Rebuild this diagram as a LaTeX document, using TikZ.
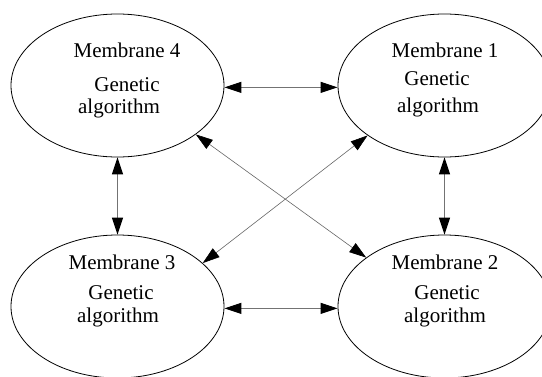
\documentclass[tikz,border=0pt]{standalone}
\usepackage{fontspec}
\setmainfont{Liberation Serif}
\usetikzlibrary{shapes.geometric,arrows.meta}
\begin{document}
\begin{tikzpicture}[x=1pt,y=-1pt,
  memb/.style={draw=black,line width=0.8pt,ellipse,minimum width=213pt,minimum height=143pt,inner sep=0pt},
  lbl/.style={font=\fontsize{21}{24}\selectfont,inner sep=0pt,text=black},
  link/.style={draw=black!55,line width=1pt,{Triangle[length=17pt,width=11pt,black]}-{Triangle[length=17pt,width=11pt,black]}},
  diag/.style={draw=black!60,line width=0.6pt,{Triangle[length=17pt,width=11pt,black]}-{Triangle[length=17pt,width=11pt,black]}}]
\useasboundingbox (0,0) rectangle (542,376);
\node[memb] (m4) at (117.5,85.5) {};
\node[memb] (m1) at (444.5,85.5) {};
\node[memb] (m3) at (117.5,306.5) {};
\node[memb] (m2) at (444.5,306.5) {};
% texts
\node[lbl] (t4a) at (127,50) {Membrane 4};
\node[lbl] (t4b) at (127,85) {Genetic};
\node[lbl] (t4c) at (119,108) {algorithm};
\node[lbl] (t1a) at (445,50) {Membrane 1};
\node[lbl] (t1b) at (437,79) {Genetic};
\node[lbl] (t1c) at (438,107) {algorithm};
\node[lbl] (t3a) at (122,262) {Membrane 3};
\node[lbl] (t3b) at (121,293) {Genetic};
\node[lbl] (t3c) at (118,317) {algorithm};
\node[lbl] (t2a) at (445,262) {Membrane 2};
\node[lbl] (t2b) at (447,293) {Genetic};
\node[lbl] (t2c) at (445,317) {algorithm};
% connectors
\draw[link] (m4.-1.5) -- (m1.181.5);
\draw[link] (m3.-1.5) -- (m2.181.5);
\draw[link] (m4.south) -- (m3.north);
\draw[link] (m1.south) -- (m2.north);
\draw[diag] (m4.-32) -- (m2.148);
\draw[diag] (m1.213) -- (m3.27);
\end{tikzpicture}
\end{document}
